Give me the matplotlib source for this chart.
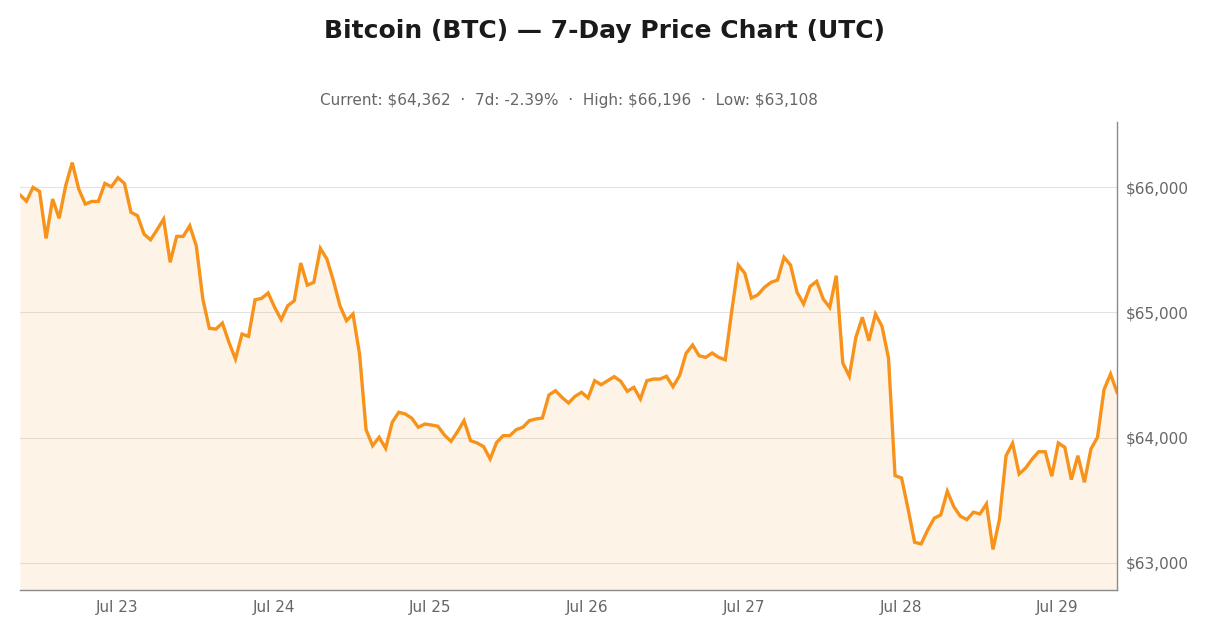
import matplotlib

matplotlib.use("Agg")
import matplotlib.dates as mdates
import matplotlib.pyplot as plt
import matplotlib.ticker as mticker
import pandas as pd

# hourly BTC closes, Jul 22 09:00 -> Jul 29 09:00 (UTC)
start_time = "2024-07-22 09:08"
prices = [
    65938, 65888, 65998, 65966, 65591, 65905, 65751, 66011, 66196, 65985,
    65865, 65886, 65886, 66030, 66003, 66075, 66030, 65799, 65772, 65625,
    65580, 65660, 65745, 65400, 65607, 65607, 65692, 65532, 65107, 64873,
    64867, 64915, 64761, 64628, 64827, 64809, 65101, 65112, 65155, 65040,
    64942, 65053, 65093, 65394, 65218, 65240, 65511, 65426, 65253, 65053,
    64934, 64987, 64668, 64064, 63936, 64003, 63915, 64122, 64203, 64189,
    64155, 64083, 64109, 64101, 64091, 64021, 63971, 64048, 64136, 63976,
    63958, 63928, 63830, 63963, 64016, 64016, 64064, 64083, 64136, 64149,
    64157, 64341, 64375, 64322, 64277, 64330, 64362, 64317, 64455, 64423,
    64455, 64487, 64450, 64370, 64402, 64309, 64455, 64468, 64468, 64490,
    64407, 64495, 64673, 64740, 64654, 64641, 64676, 64641, 64622, 65013,
    65378, 65312, 65115, 65141, 65200, 65240, 65258, 65440, 65378, 65160,
    65067, 65208, 65248, 65107, 65040, 65293, 64596, 64490, 64801, 64961,
    64774, 64987, 64889, 64635, 63697, 63678, 63431, 63165, 63152, 63263,
    63357, 63383, 63572, 63449, 63373, 63346, 63405, 63391, 63471, 63108,
    63351, 63856, 63955, 63710, 63758, 63830, 63888, 63888, 63692, 63958,
    63923, 63665, 63856, 63644, 63910, 64003, 64383, 64508, 64362,
]

BTC_ORANGE = "#F7931A"
GREY_TEXT = "#666666"

times = pd.date_range(start_time, periods=len(prices), freq="h")
series = pd.Series(prices, index=times)

current = series.iloc[-1]
change = (current / series.iloc[0] - 1) * 100
high, low = series.max(), series.min()
pad = 0.105 * (high - low)

fig = plt.figure(figsize=(12.1, 6.36), dpi=100)
ax = fig.add_axes([0.0165, 0.0723, 0.9067, 0.7359])

ax.fill_between(series.index, series.values, low - pad,
                color=BTC_ORANGE, alpha=0.1, linewidth=0)
ax.plot(series.index, series.values, color=BTC_ORANGE, linewidth=2.4,
        solid_joinstyle="miter")

ax.set_xlim(series.index[0], series.index[-1])
ax.set_ylim(low - pad, high + pad)

ax.xaxis.set_major_locator(mdates.DayLocator())
ax.xaxis.set_major_formatter(mdates.DateFormatter("%b %d"))
ax.yaxis.set_major_locator(mticker.MultipleLocator(1000))
ax.yaxis.set_major_formatter(mticker.StrMethodFormatter("${x:,.0f}"))
ax.yaxis.tick_right()
ax.tick_params(axis="both", length=0, labelsize=11, labelcolor=GREY_TEXT)
ax.tick_params(axis="x", pad=7)
ax.tick_params(axis="y", pad=6)

ax.grid(axis="y", color="#e3e3e3", linewidth=0.8)
ax.set_axisbelow(True)
for side in ("left", "top"):
    ax.spines[side].set_visible(False)
for side in ("right", "bottom"):
    ax.spines[side].set_color("#8a8a8a")
    ax.spines[side].set_linewidth(1.0)

fig.suptitle("Bitcoin (BTC) — 7-Day Price Chart (UTC)", y=0.951, va="center",
             fontsize=18, fontweight="bold", color="#1a1a1a")
ax.set_title(
    f"Current: ${current:,.0f}  ·  7d: {change:.2f}%  ·  "
    f"High: ${high:,.0f}  ·  Low: ${low:,.0f}",
    fontsize=11, color=GREY_TEXT, pad=12,
)

fig.savefig("out.png", dpi=100)
